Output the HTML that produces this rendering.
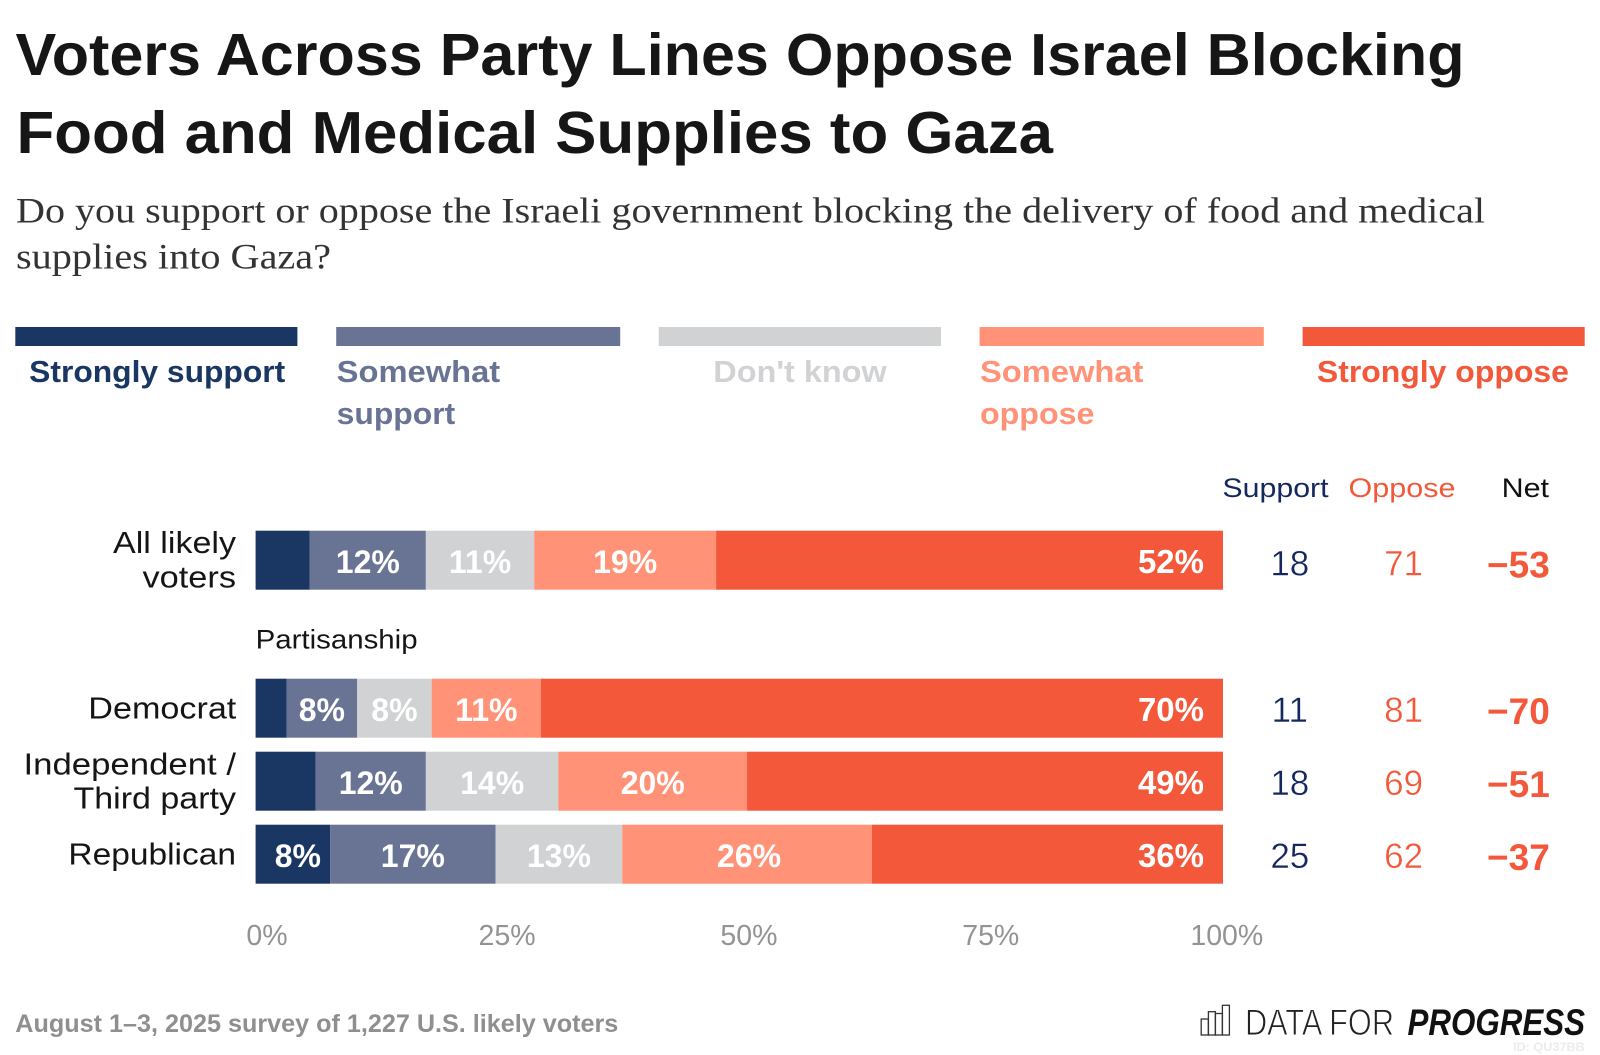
<!DOCTYPE html>
<html lang="en">
<head>
<meta charset="utf-8">
<title>Voters Across Party Lines Oppose Israel Blocking Food and Medical Supplies to Gaza</title>
<style>
html,body{margin:0;padding:0;background:#fff;width:1600px;height:1055px;overflow:hidden}
svg{display:block}
text{font-family:"Liberation Sans",sans-serif}
.title{font-size:59px;font-weight:700;fill:#161616}
.sub{font-family:"Liberation Serif",serif;font-size:36px;fill:#333}
.leg{font-size:31px;font-weight:700}
.row{font-size:31px;fill:#151515}
.hdr{font-size:27px}
</style>
</head>
<body>
<svg id="chart" xmlns="http://www.w3.org/2000/svg" width="1600" height="1055" viewBox="0 0 1600 1055">
  <rect x="0" y="0" width="1600" height="1055" fill="#fff"/>

  <text class="title" x="15.5" y="75" textLength="1449" lengthAdjust="spacingAndGlyphs">Voters Across Party Lines Oppose Israel Blocking</text>
  <text class="title" x="16.5" y="153" textLength="1036.5" lengthAdjust="spacingAndGlyphs">Food and Medical Supplies to Gaza</text>
  <text class="sub" x="16" y="222.5" textLength="1469" lengthAdjust="spacingAndGlyphs">Do you support or oppose the Israeli government blocking the delivery of food and medical</text>
  <text class="sub" x="16" y="268.5" textLength="315" lengthAdjust="spacingAndGlyphs">supplies into Gaza?</text>

  <g>
    <rect x="15.3" y="327" width="282.1" height="19" fill="#1a3663"/>
    <rect x="336.2" y="327" width="284" height="19" fill="#697495"/>
    <rect x="658.7" y="327" width="282.3" height="19" fill="#d1d2d4"/>
    <rect x="979.6" y="327" width="284.2" height="19" fill="#ff9277"/>
    <rect x="1302.6" y="327" width="282.1" height="19" fill="#f3583b"/>
    <text class="leg" x="29.2" y="382" fill="#1a3663" textLength="256" lengthAdjust="spacingAndGlyphs">Strongly support</text>
    <text class="leg" x="336.7" y="382" fill="#697495" textLength="163.5" lengthAdjust="spacingAndGlyphs">Somewhat</text>
    <text class="leg" x="336.7" y="424" fill="#697495" textLength="118.5" lengthAdjust="spacingAndGlyphs">support</text>
    <text class="leg" x="713.3" y="382" fill="#d1d2d4" textLength="173.4" lengthAdjust="spacingAndGlyphs">Don't know</text>
    <text class="leg" x="980" y="382" fill="#ff9277" textLength="163.4" lengthAdjust="spacingAndGlyphs">Somewhat</text>
    <text class="leg" x="980" y="424" fill="#ff9277" textLength="114.4" lengthAdjust="spacingAndGlyphs">oppose</text>
    <text class="leg" x="1316.9" y="382" fill="#f3583b" textLength="252" lengthAdjust="spacingAndGlyphs">Strongly oppose</text>
  </g>

  <text class="hdr" x="1222.4" y="497" fill="#14285f" textLength="106.2" lengthAdjust="spacingAndGlyphs">Support</text>
  <text class="hdr" x="1348.5" y="497" fill="#f3583b" textLength="107" lengthAdjust="spacingAndGlyphs">Oppose</text>
  <text class="hdr" x="1501.6" y="497" fill="#111" textLength="47.4" lengthAdjust="spacingAndGlyphs">Net</text>

  <g>
    <text class="row" x="113" y="553" textLength="123" lengthAdjust="spacingAndGlyphs">All likely</text>
    <text class="row" x="142.5" y="587.5" textLength="93.5" lengthAdjust="spacingAndGlyphs">voters</text>
    <text class="row" x="88.3" y="718.5" textLength="148" lengthAdjust="spacingAndGlyphs">Democrat</text>
    <text class="row" x="23.5" y="774.5" textLength="212.5" lengthAdjust="spacingAndGlyphs">Independent /</text>
    <text class="row" x="73.5" y="808.5" textLength="162.5" lengthAdjust="spacingAndGlyphs">Third party</text>
    <text class="row" x="68.4" y="864.5" textLength="167.6" lengthAdjust="spacingAndGlyphs">Republican</text>
  </g>
  <text x="255.6" y="648.5" font-size="27" fill="#151515" textLength="162" lengthAdjust="spacingAndGlyphs">Partisanship</text>

  <g id="bars"></g>
  <g id="totals"></g>
  <g id="xaxis"></g>

  <text x="15.3" y="1032" font-size="25" font-weight="700" fill="#8f8f8f" textLength="603" lengthAdjust="spacingAndGlyphs">August 1–3, 2025 survey of 1,227 U.S. likely voters</text>

  <g>
    <g fill="none" stroke="#333" stroke-width="1.3">
      <rect x="1201.2" y="1019" width="7.2" height="16"/>
      <rect x="1208.4" y="1011.7" width="7" height="23.3"/>
      <rect x="1215.4" y="1013.5" width="7" height="21.5"/>
      <rect x="1222.4" y="1005.3" width="7" height="29.7"/>
    </g>
    <text x="1245" y="1035" font-size="37" fill="#222" stroke="#fff" stroke-width="0.9" textLength="149" lengthAdjust="spacingAndGlyphs">DATA FOR</text>
    <text x="1407.5" y="1035" font-size="37" font-weight="700" font-style="italic" fill="#111" textLength="177.5" lengthAdjust="spacingAndGlyphs">PROGRESS</text>
  </g>
  <text x="1513" y="1051" font-size="12" font-weight="700" fill="#ececec" textLength="71.7" lengthAdjust="spacingAndGlyphs">ID: QU37BB</text>
</svg>

<script>
const categories = ["All likely voters", "Democrat", "Independent / Third party", "Republican"];

const stronglySupport = [5.6, 3.2, 6.2, 7.7];
const somewhatSupport = [12.0, 7.3, 11.4, 17.1];
const dontKnow = [11.2, 7.7, 13.7, 13.1];
const somewhatOppose = [18.8, 11.3, 19.5, 25.8];
const stronglyOppose = [52.4, 70.5, 49.2, 36.3];

const stronglySupportLabels = ["", "", "", "8%"];
const somewhatSupportLabels = ["12%", "8%", "12%", "17%"];
const dontKnowLabels = ["11%", "8%", "14%", "13%"];
const somewhatOpposeLabels = ["19%", "11%", "20%", "26%"];
const stronglyOpposeLabels = ["52%", "70%", "49%", "36%"];

const supportTotals = [18, 11, 18, 25];
const opposeTotals = [71, 81, 69, 62];
const netValues = [-53, -70, -51, -37];

const xTicks = [0, 25, 50, 75, 100];

const seriesNames = ["strongly-support", "somewhat-support", "dont-know", "somewhat-oppose", "strongly-oppose"];
const seriesColors = ["#1a3663", "#697495", "#d1d2d4", "#ff9277", "#f3583b"];

const allSeries = [stronglySupport, somewhatSupport, dontKnow, somewhatOppose, stronglyOppose];
const allLabels = [stronglySupportLabels, somewhatSupportLabels, dontKnowLabels, somewhatOpposeLabels, stronglyOpposeLabels];

const NS = "http://www.w3.org/2000/svg";
const barLeft = 255.6, barRight = 1223, barHeight = 59;

function xScale(v) { return barLeft + (barRight - barLeft) * v / 100; }
function rowTop(i) { return i === 0 ? 530.7 : 678.7 + (i - 1) * 73; }
function rowMid(i) { return rowTop(i) + barHeight / 2; }
function slug(s) { return s.toLowerCase().replace(/[^a-z0-9]+/g, "-"); }
function formatNet(v) { return (v < 0 ? "\u2212" : "+") + Math.abs(v); }

function makeEl(tag, attrs, text) {
  const node = document.createElementNS(NS, tag);
  for (const k in attrs) node.setAttribute(k, attrs[k]);
  if (text !== undefined) node.textContent = text;
  return node;
}

const barsGroup = document.getElementById("bars");
const totalsGroup = document.getElementById("totals");
const axisGroup = document.getElementById("xaxis");

categories.forEach(function (cat, i) {
  let cum = 0;
  allSeries.forEach(function (series, s) {
    const start = cum;
    cum += series[i];
    const x0 = xScale(start), x1 = xScale(cum);
    const rect = makeEl("rect", { x: x0, y: rowTop(i), width: x1 - x0, height: barHeight, fill: seriesColors[s] });
    
    
    barsGroup.appendChild(rect);

    const label = allLabels[s][i];
    if (label) {
      const isLast = s === allSeries.length - 1;
      const nudge = s === 0 ? 5 : (s === 3 && i === 3 ? 2 : 0);
      const tx = isLast ? barRight - 19 : (x0 + x1) / 2 + nudge;
      const t = makeEl("text", {
        x: tx,
        y: rowMid(i) + 12.6,
        "text-anchor": isLast ? "end" : "middle",
        "font-size": isLast ? 33 : 32,
        "font-weight": 700,
        fill: "#fff"
      }, label);
      
      
      barsGroup.appendChild(t);
    }
  });

  const numberBase = rowMid(i) + (i === 0 ? 15.5 : 14);

  const sup = makeEl("text", { x: 1289.8, y: numberBase, "text-anchor": "middle", "font-size": 35, fill: "#14285f", stroke: "#fff", "stroke-width": 0.4 }, String(supportTotals[i]));
  
  
  totalsGroup.appendChild(sup);

  const opp = makeEl("text", { x: 1403.6, y: numberBase, "text-anchor": "middle", "font-size": 35, fill: "#f3583b", stroke: "#fff", "stroke-width": 0.4 }, String(opposeTotals[i]));
  
  
  totalsGroup.appendChild(opp);

  const net = makeEl("text", { x: 1518.4, y: numberBase + 2, "text-anchor": "middle", "font-size": 37, "font-weight": 700, fill: "#f3583b" }, formatNet(netValues[i]));
  
  
  totalsGroup.appendChild(net);
});

xTicks.forEach(function (t) {
  const shift = t === xTicks[0] ? 11.4 : (t === xTicks[xTicks.length - 1] ? 3.8 : 9.6);
  const tick = makeEl("text", { x: xScale(t) + shift, y: 945, "text-anchor": "middle", "font-size": 28.5, fill: "#939393" }, t + "%");
  
  
  axisGroup.appendChild(tick);
});
</script>
</body>
</html>
